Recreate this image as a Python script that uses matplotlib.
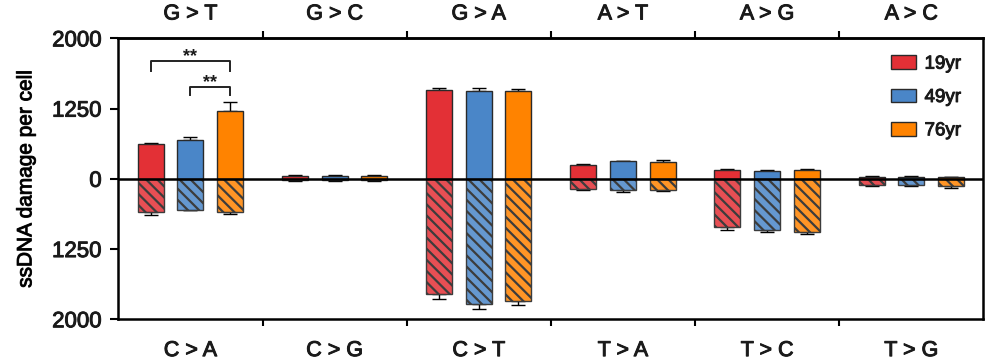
import numpy as np
import matplotlib
matplotlib.use("Agg")
import matplotlib.pyplot as plt
import matplotlib.patheffects as pe
from matplotlib.colors import to_rgba

plt.rcParams['font.family'] = ['Liberation Sans', 'DejaVu Sans']
plt.rcParams['hatch.linewidth'] = 1.6
plt.rcParams['text.color'] = '#1a1a1a'
plt.rcParams['xtick.color'] = 'black'
plt.rcParams['ytick.color'] = 'black'
plt.rcParams['xtick.labelcolor'] = '#1a1a1a'
plt.rcParams['ytick.labelcolor'] = '#1a1a1a'

# mutation classes (top = G/A strand, bottom = complementary C/T strand)
top_labels = ['G > T', 'G > C', 'G > A', 'A > T', 'A > G', 'A > C']
bottom_labels = ['C > A', 'C > G', 'C > T', 'T > A', 'T > C', 'T > G']
ages = ['19yr', '49yr', '76yr']
colors = ['#e33036', '#4a86c8', '#ff8300']

# ssDNA damage per cell, upper half
top_19 = [615, 50, 1447, 248, 154, 30]
top_49 = [686, 52, 1443, 313, 147, 35]
top_76 = [1206, 55, 1436, 307, 160, 25]
top_err_19 = [28, 14, 24, 18, 17, 12]
top_err_49 = [59, 12, 32, 12, 18, 12]
top_err_76 = [110, 10, 28, 30, 17, 10]

# lower half (plotted downwards)
bot_19 = [585, 25, 1734, 183, 863, 112]
bot_49 = [550, 22, 1840, 200, 904, 106]
bot_76 = [585, 25, 1805, 200, 945, 136]
bot_err_19 = [53, 12, 53, 24, 41, 18]
bot_err_49 = [12, 12, 54, 30, 41, 18]
bot_err_76 = [35, 12, 46, 18, 42, 29]


def fwd(v):
    a = np.abs(v)
    return np.sign(v) * np.where(a <= 1250, a / 1250, 1 + (a - 1250) / 750)


def inv(u):
    a = np.abs(u)
    return np.sign(u) * np.where(a <= 1, a * 1250, 1250 + (a - 1) * 750)


thick = [pe.withStroke(linewidth=0.7, foreground='#1a1a1a')]

fig = plt.figure(figsize=(9.87, 3.62), dpi=100)
ax = fig.add_axes([0.1199, 0.118, 0.8764, 0.776])
ax.set_yscale('function', functions=(fwd, inv))

x = np.arange(len(top_labels)) + 0.5
width = 0.18
offsets = [-0.275, 0, 0.275]

tops = [top_19, top_49, top_76]
top_errs = [top_err_19, top_err_49, top_err_76]
bots = [bot_19, bot_49, bot_76]
bot_errs = [bot_err_19, bot_err_49, bot_err_76]

for i in range(3):
    xi = x + offsets[i]
    up = np.array(tops[i])
    dn = np.array(bots[i])
    ax.bar(xi, up, width=width, color=colors[i], edgecolor='#2a2a2a',
           linewidth=1.0, label=ages[i], zorder=2)
    ax.bar(xi, -dn, width=width, color=to_rgba(colors[i], 0.85),
           edgecolor='#3c3c3c', linewidth=1.0, hatch='\\\\\\', zorder=2)
    ax.errorbar(xi, up, yerr=[np.zeros(6), top_errs[i]], fmt='none',
                ecolor='black', elinewidth=1.0, capsize=4.7, capthick=1.0, zorder=1)
    ax.errorbar(xi, -dn, yerr=[bot_errs[i], np.zeros(6)], fmt='none',
                ecolor='black', elinewidth=1.0, capsize=4.7, capthick=1.0, zorder=1)

ax.axhline(0, color='black', linewidth=1.8, zorder=3)

# significance brackets
def bracket(x0, x1, y, ylow, text):
    ax.plot([x0, x0, x1, x1], [ylow, y, y, ylow], color='#222222', linewidth=1.4,
            zorder=3, clip_on=False)
    ax.text((x0 + x1) / 2, y - 45, text, ha='center', va='bottom',
            fontsize=13, fontweight='bold')

bracket(x[0] + offsets[0], x[0] + offsets[2], 1755, 1656, '**')
bracket(x[0] + offsets[1], x[0] + offsets[2], 1486, 1394, '**')

ax.set_xlim(0, 6)
ax.set_ylim(-2000, 2000)
ax.set_yticks([-2000, -1250, 0, 1250, 2000])
ax.set_yticklabels(['2000', '1250', '0', '1250', '2000'])
ax.set_ylabel('ssDNA damage per cell', fontsize=15, labelpad=12,
              path_effects=thick)

ax.set_xticks(x)
ax.set_xticklabels(bottom_labels)
ax.set_xticks(np.arange(1, 6), minor=True)
ax.tick_params(axis='x', which='major', length=0, pad=15, labelsize=15.5)
ax.tick_params(axis='x', which='minor', length=5, width=1.5, direction='out',
               top=True, bottom=True)
ax.tick_params(axis='y', length=6, width=1.5, labelsize=16, pad=6)

sec = ax.secondary_xaxis('top')
sec.set_xticks(x)
sec.set_xticklabels(top_labels)
sec.tick_params(axis='x', length=0, pad=10, labelsize=15.5)
sec.spines['top'].set_linewidth(1.8)

for s in ax.spines.values():
    s.set_linewidth(1.8)

for t in ax.get_xticklabels() + ax.get_yticklabels() + sec.get_xticklabels():
    t.set_path_effects(thick)

leg = ax.legend(loc='upper left', bbox_to_anchor=(0.893, 0.94), frameon=False,
                fontsize=13.5, handlelength=1.35, handleheight=0.75,
                labelspacing=0.85, handletextpad=0.45, borderpad=0,
                borderaxespad=0)
for t in leg.get_texts():
    t.set_path_effects(thick)

fig.savefig('out.png', dpi=100)
